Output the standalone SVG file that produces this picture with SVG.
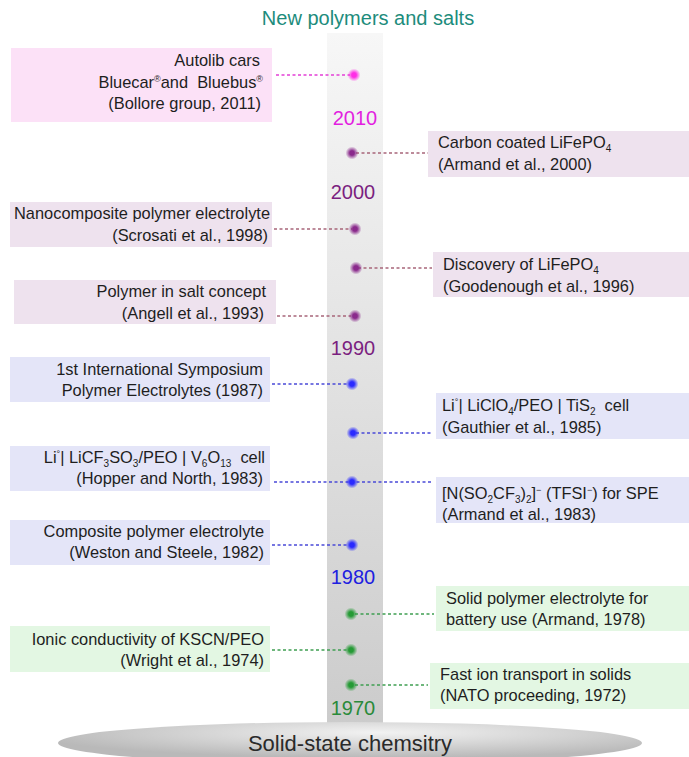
<svg xmlns="http://www.w3.org/2000/svg" width="689" height="757" viewBox="0 0 689 757">
<defs>
<style>
text{font-family:"Liberation Sans",Arial,sans-serif;}
.t{font-size:16.4px;fill:#1e1e1e;}
.r{text-anchor:end;}
.yr{font-size:20px;text-anchor:middle;}
.sub{font-size:10px;}
.sup{font-size:9px;}
.pk{fill:#fce1f7;}
.pu{fill:#eee2ee;}
.bl{fill:#e4e5f8;}
.gr{fill:#e3f7e3;}
.c{fill:none;stroke-width:1.3;stroke-dasharray:3 2.5;}
.cpk{stroke:#e43fd6;}
.cpu{stroke:#a8667a;}
.cbl{stroke:#4a4ad8;}
.cgr{stroke:#3f9f52;}
</style>
<linearGradient id="bar" x1="0" y1="0" x2="0" y2="1">
<stop offset="0" stop-color="#f7f7f7"/>
<stop offset="1" stop-color="#cbcbcb"/>
</linearGradient>
<radialGradient id="base" cx="0.55" cy="0.25" r="0.6">
<stop offset="0" stop-color="#f2f2f2"/>
<stop offset="1" stop-color="#b9b9b9"/>
</radialGradient>
<radialGradient id="dpk"><stop offset="0.35" stop-color="#ff2ee6"/><stop offset="1" stop-color="#ff2ee6" stop-opacity="0"/></radialGradient>
<radialGradient id="dpu"><stop offset="0.35" stop-color="#8a2a8c"/><stop offset="1" stop-color="#8a2a8c" stop-opacity="0"/></radialGradient>
<radialGradient id="dbl"><stop offset="0.35" stop-color="#2a2aff"/><stop offset="1" stop-color="#2a2aff" stop-opacity="0"/></radialGradient>
<radialGradient id="dgr"><stop offset="0.35" stop-color="#259a35"/><stop offset="1" stop-color="#259a35" stop-opacity="0"/></radialGradient>
</defs>

<rect width="689" height="757" fill="#ffffff"/>

<g id="title">
<text x="368" y="25" style="font-size:20px;fill:#1d8c7c;text-anchor:middle">New polymers and salts</text>
</g>

<g id="timeline">
<rect x="327" y="33" width="56" height="700" fill="url(#bar)"/>
</g>

<g id="base">
<ellipse cx="350" cy="743" rx="292" ry="21" fill="url(#base)"/>
<text x="350" y="751" style="font-size:22px;fill:#2a2a2a;text-anchor:middle">Solid-state chemsitry</text>
</g>

<g id="years">
<text class="yr" x="355" y="125" fill="#e21fe0">2010</text>
<text class="yr" x="353" y="199" fill="#7b1f80">2000</text>
<text class="yr" x="353" y="355" fill="#7b1f80">1990</text>
<text class="yr" x="353" y="584" fill="#2020e0">1980</text>
<text class="yr" x="353" y="715" fill="#2a8a3a">1970</text>
</g>

<g id="connectors">
<line class="c cpk" x1="276" y1="75" x2="350" y2="75"/>
<line class="c cpu" x1="356" y1="153" x2="428" y2="153"/>
<line class="c cpu" x1="274" y1="229" x2="352" y2="229"/>
<line class="c cpu" x1="358" y1="268" x2="432" y2="268"/>
<line class="c cpu" x1="277" y1="316" x2="351" y2="316"/>
<line class="c cbl" x1="272" y1="384" x2="349" y2="384"/>
<line class="c cbl" x1="356" y1="433" x2="433" y2="433"/>
<line class="c cbl" x1="274" y1="482" x2="433" y2="482"/>
<line class="c cbl" x1="272" y1="545" x2="349" y2="545"/>
<line class="c cgr" x1="355" y1="614" x2="434" y2="614"/>
<line class="c cgr" x1="272" y1="650" x2="349" y2="650"/>
<line class="c cgr" x1="355" y1="685" x2="428" y2="685"/>
</g>

<g id="dots">
<circle cx="354" cy="75" r="6.5" fill="url(#dpk)"/>
<circle cx="352" cy="153" r="6.5" fill="url(#dpu)"/>
<circle cx="355" cy="229" r="6.5" fill="url(#dpu)"/>
<circle cx="356" cy="268" r="6.5" fill="url(#dpu)"/>
<circle cx="355" cy="316" r="6.5" fill="url(#dpu)"/>
<circle cx="352" cy="384" r="6.5" fill="url(#dbl)"/>
<circle cx="353" cy="433" r="6.5" fill="url(#dbl)"/>
<circle cx="352" cy="482" r="6.5" fill="url(#dbl)"/>
<circle cx="352" cy="545" r="6.5" fill="url(#dbl)"/>
<circle cx="351" cy="614" r="6.5" fill="url(#dgr)"/>
<circle cx="351" cy="650" r="6.5" fill="url(#dgr)"/>
<circle cx="351" cy="685" r="6.5" fill="url(#dgr)"/>
</g>

<g id="autolib">
<rect class="pk" x="11" y="48" width="261" height="74"/>
<text class="t r" x="260" y="66">Autolib cars</text>
<text class="t r" x="263" y="88">Bluecar<tspan class="sup" dy="-6">®</tspan><tspan dy="6">and&#160; Bluebus</tspan><tspan class="sup" dy="-6">®</tspan></text>
<text class="t r" x="261" y="109">(Bollore group, 2011)</text>
</g>

<g id="carbon-coated">
<rect class="pu" x="428" y="131" width="261" height="46"/>
<text class="t" x="438" y="148">Carbon coated LiFePO<tspan class="sub" dy="4">4</tspan></text>
<text class="t" x="438" y="170">(Armand et al., 2000)</text>
</g>

<g id="nanocomposite">
<rect class="pu" x="10" y="202" width="262" height="45"/>
<text class="t r" x="270" y="219">Nanocomposite polymer electrolyte</text>
<text class="t r" x="268" y="241">(Scrosati et al., 1998)</text>
</g>

<g id="discovery">
<rect class="pu" x="433" y="252" width="256" height="45"/>
<text class="t" x="443" y="270">Discovery of LiFePO<tspan class="sub" dy="4">4</tspan></text>
<text class="t" x="443" y="292">(Goodenough et al., 1996)</text>
</g>

<g id="polymer-in-salt">
<rect class="pu" x="14" y="280" width="262" height="44"/>
<text class="t r" x="266" y="297">Polymer in salt concept</text>
<text class="t r" x="264" y="319">(Angell et al., 1993)</text>
</g>

<g id="symposium">
<rect class="bl" x="10" y="357" width="260" height="45"/>
<text class="t r" x="263" y="375">1st International Symposium</text>
<text class="t r" x="263" y="396">Polymer Electrolytes (1987)</text>
</g>

<g id="gauthier">
<rect class="bl" x="436" y="393" width="253" height="46"/>
<text class="t" x="442" y="411">Li<tspan class="sup" dy="-6">°</tspan><tspan dy="6">| LiClO</tspan><tspan class="sub" dy="4">4</tspan><tspan dy="-4">/PEO | TiS</tspan><tspan class="sub" dy="4">2</tspan><tspan dy="-4">&#160; cell</tspan></text>
<text class="t" x="442" y="433">(Gauthier et al., 1985)</text>
</g>

<g id="hopper">
<rect class="bl" x="10" y="446" width="260" height="45"/>
<text class="t r" x="265" y="463">Li<tspan class="sup" dy="-6">°</tspan><tspan dy="6">| LiCF</tspan><tspan class="sub" dy="4">3</tspan><tspan dy="-4">SO</tspan><tspan class="sub" dy="4">3</tspan><tspan dy="-4">/PEO | V</tspan><tspan class="sub" dy="4">6</tspan><tspan dy="-4">O</tspan><tspan class="sub" dy="4">13</tspan><tspan dy="-4">&#160; cell</tspan></text>
<text class="t r" x="263" y="484">(Hopper and North, 1983)</text>
</g>

<g id="tfsi">
<rect class="bl" x="436" y="477" width="253" height="46"/>
<text class="t" x="442" y="499">[N(SO<tspan class="sub" dy="4">2</tspan><tspan dy="-4">CF</tspan><tspan class="sub" dy="4">3</tspan><tspan dy="-4">)</tspan><tspan class="sub" dy="4">2</tspan><tspan dy="-4">]</tspan><tspan class="sup" dy="-6">−</tspan><tspan dy="6"> (TFSI</tspan><tspan class="sup" dy="-6">−</tspan><tspan dy="6">) for SPE</tspan></text>
<text class="t" x="442" y="520">(Armand et al., 1983)</text>
</g>

<g id="composite">
<rect class="bl" x="10" y="520" width="260" height="45"/>
<text class="t r" x="264" y="537">Composite polymer electrolyte</text>
<text class="t r" x="264" y="558">(Weston and Steele, 1982)</text>
</g>

<g id="spe-battery">
<rect class="gr" x="436" y="586" width="253" height="45"/>
<text class="t" x="446" y="604">Solid polymer electrolyte for</text>
<text class="t" x="446" y="625">battery use (Armand, 1978)</text>
</g>

<g id="ionic">
<rect class="gr" x="10" y="626" width="260" height="46"/>
<text class="t r" x="264" y="645">Ionic conductivity of KSCN/PEO</text>
<text class="t r" x="264" y="666">(Wright et al., 1974)</text>
</g>

<g id="fast-ion">
<rect class="gr" x="430" y="663" width="259" height="46"/>
<text class="t" x="440" y="680">Fast ion transport in solids</text>
<text class="t" x="440" y="701">(NATO proceeding, 1972)</text>
</g>
</svg>
